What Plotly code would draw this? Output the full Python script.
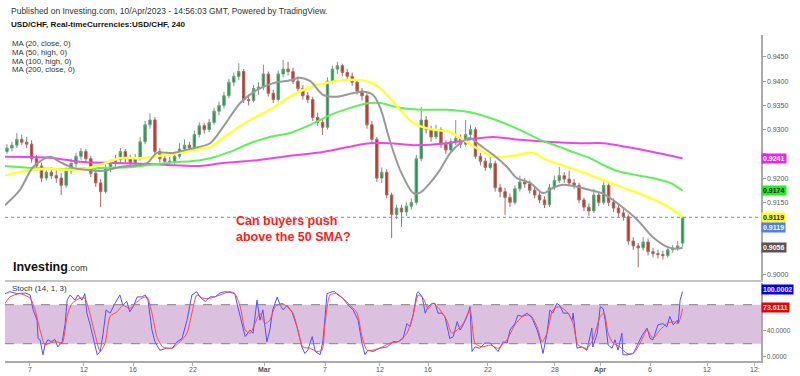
import plotly.graph_objects as go

# ---------------- data ----------------
idx = list(range(138))
O = [0.9255, 0.9262, 0.9268, 0.9280, 0.9274, 0.9270, 0.9240, 0.9225, 0.9200, 0.9212,
     0.9205, 0.9200, 0.9185, 0.9215, 0.9230, 0.9245, 0.9255, 0.9240, 0.9210, 0.9190,
     0.9172, 0.9220, 0.9230, 0.9238, 0.9255, 0.9240, 0.9232, 0.9240, 0.9275, 0.9310,
     0.9320, 0.9255, 0.9240, 0.9235, 0.9232, 0.9245, 0.9260, 0.9268, 0.9262, 0.9290,
     0.9308, 0.9300, 0.9315, 0.9338, 0.9350, 0.9370, 0.9398, 0.9410, 0.9420, 0.9362,
     0.9360, 0.9385, 0.9388, 0.9415, 0.9375, 0.9362, 0.9415, 0.9425, 0.9420, 0.9400,
     0.9385, 0.9370, 0.9362, 0.9325, 0.9315, 0.9305, 0.9400, 0.9425, 0.9432, 0.9418,
     0.9410, 0.9398, 0.9380, 0.9370, 0.9310, 0.9280, 0.9200, 0.9212, 0.9165, 0.9125,
     0.9138, 0.9130, 0.9142, 0.9150, 0.9240, 0.9320, 0.9300, 0.9285, 0.9300, 0.9270,
     0.9258, 0.9275, 0.9282, 0.9270, 0.9290, 0.9300, 0.9245, 0.9235, 0.9222, 0.9230,
     0.9180, 0.9172, 0.9160, 0.9150, 0.9178, 0.9192, 0.9188, 0.9175, 0.9165, 0.9155,
     0.9145, 0.9180, 0.9195, 0.9205, 0.9198, 0.9190, 0.9185, 0.9155, 0.9140, 0.9132,
     0.9165, 0.9150, 0.9185, 0.9150, 0.9138, 0.9128, 0.9120, 0.9070, 0.9060, 0.9056,
     0.9068, 0.9048, 0.9044, 0.9042, 0.9040, 0.9052, 0.9055, 0.9066]
H = [0.9270, 0.9275, 0.9293, 0.9290, 0.9285, 0.9278, 0.9248, 0.9232, 0.9220, 0.9222,
     0.9218, 0.9210, 0.9222, 0.9240, 0.9252, 0.9262, 0.9260, 0.9246, 0.9218, 0.9198,
     0.9228, 0.9238, 0.9248, 0.9262, 0.9260, 0.9248, 0.9250, 0.9285, 0.9318, 0.9334,
     0.9326, 0.9262, 0.9248, 0.9244, 0.9252, 0.9272, 0.9280, 0.9275, 0.9298, 0.9315,
     0.9314, 0.9322, 0.9345, 0.9358, 0.9378, 0.9405, 0.9418, 0.9437, 0.9425, 0.9372,
     0.9392, 0.9398, 0.9434, 0.9420, 0.9382, 0.9422, 0.9444, 0.9440, 0.9428, 0.9410,
     0.9392, 0.9378, 0.9368, 0.9335, 0.9322, 0.9408, 0.9432, 0.9440, 0.9436, 0.9425,
     0.9418, 0.9404, 0.9386, 0.9375, 0.9318, 0.9285, 0.9222, 0.9218, 0.9170, 0.9145,
     0.9145, 0.9150, 0.9158, 0.9248, 0.9347, 0.9328, 0.9308, 0.9310, 0.9305, 0.9278,
     0.9282, 0.9320, 0.9290, 0.9320, 0.9310, 0.9305, 0.9252, 0.9242, 0.9245, 0.9236,
     0.9188, 0.9180, 0.9168, 0.9185, 0.9205, 0.9200, 0.9195, 0.9182, 0.9172, 0.9162,
     0.9188, 0.9205, 0.9223, 0.9212, 0.9215, 0.9198, 0.9190, 0.9160, 0.9148, 0.9178,
     0.9172, 0.9196, 0.9190, 0.9158, 0.9146, 0.9140, 0.9125, 0.9078, 0.9066, 0.9078,
     0.9075, 0.9056, 0.9052, 0.9050, 0.9058, 0.9062, 0.9070, 0.9122]
L = [0.9250, 0.9255, 0.9262, 0.9268, 0.9262, 0.9232, 0.9215, 0.9192, 0.9195, 0.9198,
     0.9190, 0.9165, 0.9180, 0.9208, 0.9222, 0.9238, 0.9232, 0.9202, 0.9182, 0.9140,
     0.9168, 0.9212, 0.9222, 0.9232, 0.9232, 0.9225, 0.9228, 0.9236, 0.9270, 0.9302,
     0.9248, 0.9232, 0.9228, 0.9226, 0.9228, 0.9240, 0.9252, 0.9255, 0.9258, 0.9284,
     0.9292, 0.9295, 0.9310, 0.9330, 0.9344, 0.9365, 0.9390, 0.9402, 0.9355, 0.9350,
     0.9356, 0.9372, 0.9382, 0.9368, 0.9355, 0.9358, 0.9408, 0.9412, 0.9394, 0.9378,
     0.9362, 0.9355, 0.9318, 0.9308, 0.9289, 0.9300, 0.9395, 0.9415, 0.9410, 0.9400,
     0.9390, 0.9372, 0.9360, 0.9302, 0.9270, 0.9192, 0.9190, 0.9158, 0.9076, 0.9115,
     0.9099, 0.9122, 0.9135, 0.9145, 0.9235, 0.9292, 0.9275, 0.9280, 0.9262, 0.9250,
     0.9252, 0.9268, 0.9262, 0.9265, 0.9282, 0.9240, 0.9226, 0.9215, 0.9218, 0.9172,
     0.9160, 0.9124, 0.9140, 0.9145, 0.9172, 0.9180, 0.9168, 0.9158, 0.9148, 0.9138,
     0.9140, 0.9175, 0.9190, 0.9190, 0.9184, 0.9178, 0.9148, 0.9132, 0.9122, 0.9128,
     0.9142, 0.9145, 0.9142, 0.9130, 0.9120, 0.9112, 0.9062, 0.9052, 0.9016, 0.9050,
     0.9040, 0.9036, 0.9034, 0.9032, 0.9036, 0.9046, 0.9050, 0.9058]
C = [0.9262, 0.9268, 0.9280, 0.9274, 0.9270, 0.9240, 0.9225, 0.9200, 0.9212, 0.9205,
     0.9200, 0.9185, 0.9215, 0.9230, 0.9245, 0.9255, 0.9240, 0.9210, 0.9190, 0.9172,
     0.9220, 0.9230, 0.9238, 0.9255, 0.9240, 0.9232, 0.9240, 0.9275, 0.9310, 0.9320,
     0.9255, 0.9240, 0.9235, 0.9232, 0.9245, 0.9260, 0.9268, 0.9262, 0.9290, 0.9308,
     0.9300, 0.9315, 0.9338, 0.9350, 0.9370, 0.9398, 0.9410, 0.9420, 0.9362, 0.9360,
     0.9385, 0.9388, 0.9415, 0.9375, 0.9362, 0.9415, 0.9425, 0.9420, 0.9400, 0.9385,
     0.9370, 0.9362, 0.9325, 0.9315, 0.9305, 0.9400, 0.9425, 0.9432, 0.9418, 0.9410,
     0.9398, 0.9380, 0.9370, 0.9310, 0.9280, 0.9200, 0.9212, 0.9165, 0.9125, 0.9138,
     0.9130, 0.9142, 0.9150, 0.9240, 0.9320, 0.9300, 0.9285, 0.9300, 0.9270, 0.9258,
     0.9275, 0.9282, 0.9270, 0.9290, 0.9300, 0.9245, 0.9235, 0.9222, 0.9230, 0.9180,
     0.9172, 0.9160, 0.9150, 0.9178, 0.9192, 0.9188, 0.9175, 0.9165, 0.9155, 0.9145,
     0.9180, 0.9195, 0.9205, 0.9198, 0.9190, 0.9185, 0.9155, 0.9140, 0.9132, 0.9165,
     0.9150, 0.9185, 0.9150, 0.9138, 0.9128, 0.9120, 0.9070, 0.9060, 0.9056, 0.9068,
     0.9048, 0.9044, 0.9042, 0.9040, 0.9052, 0.9055, 0.9060, 0.9119]

ma20_x = [-0.4, 2.6, 5.3, 8.7, 10.8, 13.4, 16.2, 19.5, 22.9, 28.4, 30.4, 33.7, 37.1, 41.2, 43.8, 47.3,
          50.7, 54.0, 57.4, 59.4, 61.5, 64.1, 66.9, 69.6, 72.2, 74.2, 75.7, 77.7, 79.7, 82.4, 83.8,
          85.8, 87.8, 89.9, 91.9, 93.9, 95.9, 98.6, 101.4, 103.4, 106.1, 108.7, 110.8, 112.8, 115.6,
          118.3, 120.9, 124.3, 127.8, 131.0, 133.9, 135.9, 137.0]
ma20_y = [0.9144, 0.9175, 0.9223, 0.9244, 0.9233, 0.9221, 0.9217, 0.9215, 0.9223, 0.9231, 0.9252,
          0.9252, 0.9260, 0.9272, 0.9305, 0.9355, 0.9382, 0.9396, 0.9402, 0.9407, 0.9400, 0.9372,
          0.9368, 0.9374, 0.9378, 0.9372, 0.9345, 0.9275, 0.9217, 0.9169, 0.9170, 0.9190, 0.9217,
          0.9252, 0.9272, 0.9283, 0.9268, 0.9248, 0.9223, 0.9200, 0.9190, 0.9169, 0.9180, 0.9186,
          0.9182, 0.9175, 0.9168, 0.9144, 0.9114, 0.9078, 0.9058, 0.9054, 0.9056]
ma50_x = [-0.4, 5.3, 8.7, 14.8, 18.9, 22.9, 27.0, 31.0, 35.1, 39.1, 41.2, 45.2, 49.3, 53.3, 57.4,
          61.5, 65.5, 69.6, 73.6, 75.7, 77.7, 79.7, 82.4, 85.8, 89.9, 92.5, 95.9, 98.6, 102.6,
          106.7, 109.5, 113.6, 118.3, 122.3, 126.4, 130.4, 134.5, 137.0]
ma50_y = [0.9206, 0.9217, 0.9219, 0.9217, 0.9227, 0.9241, 0.9241, 0.9246, 0.9252, 0.9260, 0.9264,
          0.9293, 0.9320, 0.9341, 0.9368, 0.9388, 0.9398, 0.9403, 0.9398, 0.9385, 0.9365, 0.9341,
          0.9314, 0.9301, 0.9295, 0.9279, 0.9258, 0.9244, 0.9246, 0.9252, 0.9237, 0.9223, 0.9206,
          0.9190, 0.9175, 0.9159, 0.9138, 0.9119]
ma100_x = [-0.4, 5.3, 12.2, 18.9, 25.6, 32.5, 39.1, 41.2, 45.2, 49.3, 53.3, 57.4, 61.5, 65.5, 69.6,
           73.6, 75.7, 79.7, 83.8, 89.2, 93.9, 98.6, 104.1, 108.1, 112.2, 114.2, 118.3, 120.9,
           124.3, 127.8, 131.0, 134.5, 137.0]
ma100_y = [0.9225, 0.9221, 0.9219, 0.9221, 0.9223, 0.9231, 0.9237, 0.9241, 0.9254, 0.9272, 0.9285,
           0.9293, 0.9310, 0.9330, 0.9345, 0.9355, 0.9355, 0.9345, 0.9341, 0.9341, 0.9336, 0.9322,
           0.9299, 0.9279, 0.9264, 0.9256, 0.9241, 0.9227, 0.9213, 0.9206, 0.9200, 0.9190, 0.9174]
ma200_x = [-0.4, 8.7, 15.4, 22.3, 29.0, 32.5, 39.1, 43.8, 50.7, 57.4, 64.1, 71.0, 73.6, 77.7,
           82.4, 89.2, 94.5, 98.6, 104.1, 109.5, 116.2, 120.9, 125.8, 131.0, 137.0]
ma200_y = [0.9244, 0.9242, 0.9233, 0.9231, 0.9229, 0.9227, 0.9225, 0.9231, 0.9237, 0.9246, 0.9254,
           0.9268, 0.9272, 0.9272, 0.9268, 0.9272, 0.9281, 0.9285, 0.9279, 0.9275, 0.9272, 0.9272,
           0.9264, 0.9254, 0.9241]

k_x = [-0.4, 0.6, 2.0, 3.7, 4.7, 5.3, 6.1, 6.3, 6.7, 7.3, 7.7, 8.3, 9.1, 9.7, 10.3, 11.2, 11.8, 12.2,
       12.8, 13.8, 14.4, 15.2, 15.8, 16.2, 16.8, 17.4, 18.3, 18.9, 19.5, 20.1, 20.9, 21.9, 22.9, 23.5,
       24.3, 24.9, 25.6, 26.4, 27.4, 28.0, 28.6, 29.4, 30.0, 31.0, 32.4, 33.5, 34.5, 35.5, 36.5, 37.5,
       38.5, 39.1, 40.2, 41.2, 42.2, 43.2, 44.2, 45.2, 46.2, 46.8, 47.7, 48.3, 49.3, 49.9, 50.7, 51.3,
       51.9, 52.7, 53.3, 53.9, 54.8, 55.4, 56.0, 56.8, 57.8, 58.8, 59.8, 60.4, 61.0, 61.9, 62.5, 63.5,
       64.1, 64.9, 65.9, 66.5, 67.1, 68.1, 69.2, 70.2, 71.2, 72.0, 72.6, 73.2, 74.2, 75.6, 77.1, 78.3,
       79.3, 80.3, 81.1, 81.7, 82.3, 83.1, 83.4, 84.2, 84.8, 85.4, 86.2, 86.8, 87.4, 88.2, 88.8, 89.8,
       90.5, 91.3, 91.9, 92.5, 93.3, 93.9, 94.3, 94.9, 95.9, 96.9, 98.0, 99.0, 99.6, 100.6, 101.4,
       102.0, 103.0, 103.6, 104.4, 105.5, 106.5, 107.5, 108.1, 108.7, 109.5, 110.1, 110.7, 111.5,
       112.1, 112.8, 113.8, 114.6, 114.8, 115.6, 116.6, 117.6, 118.6, 118.8, 119.7, 120.3, 120.9,
       121.3, 121.9, 122.7, 123.3, 123.9, 124.7, 124.9, 125.9, 127.0, 128.0, 128.8, 129.8, 130.4,
       131.0, 132.0, 133.0, 133.8, 134.4, 135.1, 135.9, 136.1, 136.5, 137.0]
k_val = [97, 100, 97, 98, 95, 72, 56, 28, 26, 3, 18, 26, 23, 27, 15, 23, 51, 87,
         95, 87, 95, 87, 97, 67, 51, 31, 3, 8, 36, 72, 67, 82, 95, 79,
         85, 69, 77, 92, 92, 95, 87, 41, 23, 10, 13, 13, 23, 28, 56, 95,
         100, 92, 85, 92, 92, 98, 100, 99, 97, 77, 51, 31, 41, 36, 87, 56,
         72, 23, 41, 72, 92, 79, 72, 79, 69, 46, 15, 5, 10, 31, 8, 3,
         26, 97, 100, 100, 95, 90, 79, 72, 56, 21, 3, 10, 8, 13, 15, 23,
         23, 28, 51, 46, 62, 97, 100, 92, 67, 77, 82, 82, 67, 67, 62, 28,
         31, 54, 41, 49, 62, 77, 8, 15, 13, 21, 21, 13, 8, 23, 21,
         41, 51, 64, 62, 67, 59, 41, 26, 5, 36, 72, 67, 82,
         79, 67, 67, 56, 67, 13, 15, 10, 44, 15, 36, 77, 74,
         56, 18, 13, 26, 10, 36, 3, 3, 5, 21, 33, 44, 28,
         26, 49, 51, 46, 62, 49, 56, 51, 87, 100]
d_x = [-0.4, 0.6, 2.6, 4.7, 5.7, 6.7, 7.7, 8.7, 10.1, 11.2, 12.2, 13.2, 14.8, 15.8, 16.8, 17.8, 18.9,
       19.9, 20.9, 22.3, 23.5, 24.9, 26.0, 27.4, 28.4, 29.4, 30.4, 31.6, 33.5, 35.1, 36.5, 37.5, 38.5,
       39.7, 41.2, 43.2, 45.2, 46.2, 47.3, 48.3, 49.3, 50.3, 51.3, 52.3, 53.3, 54.4, 55.8, 56.8, 58.0,
       59.0, 60.0, 61.4, 62.9, 63.9, 64.5, 65.5, 66.9, 68.1, 69.6, 71.0, 72.0, 73.0, 74.2, 76.1, 77.7,
       79.3, 81.1, 82.3, 83.4, 84.4, 85.4, 86.4, 87.8, 89.2, 90.2, 91.3, 92.5, 93.9, 94.9, 96.3, 98.0,
       99.6, 101.4, 103.0, 104.6, 106.1, 107.5, 108.5, 109.5, 110.7, 112.1, 113.8, 114.8, 115.8,
       117.6, 118.8, 120.3, 121.1, 121.9, 122.9, 124.3, 125.7, 127.0, 128.4, 129.8, 131.0, 132.4,
       133.8, 135.1, 136.1, 137.0]
d_val = [82, 92, 97, 90, 72, 41, 18, 21, 23, 21, 62, 82, 90, 90, 67, 36, 8,
         21, 62, 69, 79, 74, 82, 90, 92, 67, 31, 15, 13, 23, 36, 67, 95,
         90, 90, 95, 100, 97, 77, 41, 36, 51, 67, 51, 56, 77, 82, 77, 67,
         41, 15, 13, 8, 10, 51, 95, 97, 90, 79, 67, 31, 10, 10, 15, 21,
         23, 36, 62, 95, 90, 74, 82, 72, 56, 36, 41, 51, 72, 21, 15, 18,
         13, 26, 49, 62, 64, 46, 23, 36, 72, 77, 67, 51, 18,
         13, 26, 62, 67, 36, 21, 15, 5, 5, 21, 41, 28, 41,
         51, 54, 51, 73.6111]

price_ticks = [0.9000, 0.9050, 0.9100, 0.9150, 0.9200, 0.9250, 0.9300, 0.9350, 0.9400, 0.9450]
price_tick_text = ["0.9000", "", "", "0.9150", "0.9200", "", "0.9300", "0.9350", "0.9400", "0.9450"]
date_pos = [4.66, 15.6, 25.6, 37.7, 52.3, 64.5, 75.6, 85.4, 97.5, 111.1, 120.3, 130.4, 142.0, 151.6]
date_lbl = ["7", "12", "16", "22", "<b>Mar</b>", "7", "12", "16", "22", "28", "<b>Apr</b>", "6", "12", "12:"]
stoch_ticks = [0, 40, 80]
stoch_tick_text = ["0.0000", "40.0000", ""]

FONT = "Liberation Sans, Arial, sans-serif"

fig = go.Figure()
fig.add_trace(go.Candlestick(
    x=idx, open=O, high=H, low=L, close=C, xaxis="x", yaxis="y",
    increasing=dict(fillcolor="#1f9a4c", line=dict(color="#6e9e7e", width=1)),
    decreasing=dict(fillcolor="#c0352c", line=dict(color="#a86a62", width=1)),
    whiskerwidth=0, showlegend=False, hoverinfo="skip"))

for xs, ys, col, w in [(ma200_x, ma200_y, "#ee44ee", 2), (ma100_x, ma100_y, "#5ff05a", 2),
                       (ma50_x, ma50_y, "#ffff3a", 2.5), (ma20_x, ma20_y, "#999999", 2)]:
    fig.add_trace(go.Scatter(x=xs, y=ys, mode="lines", line=dict(color=col, width=w, shape="spline", smoothing=0.8),
                             xaxis="x", yaxis="y", showlegend=False, hoverinfo="skip"))

fig.add_trace(go.Scatter(x=k_x, y=k_val, mode="lines", line=dict(color="#5050ff", width=1),
                         xaxis="x2", yaxis="y2", showlegend=False, hoverinfo="skip"))
fig.add_trace(go.Scatter(x=d_x, y=d_val, mode="lines", line=dict(color="#ff4a4a", width=1, shape="spline", smoothing=0.6),
                         xaxis="x2", yaxis="y2", showlegend=False, hoverinfo="skip"))

axis_common = dict(showgrid=False, zeroline=False, automargin=False)
fig.update_layout(
    template="none",
    width=800, height=376, margin=dict(l=5, r=39, t=35, b=15, pad=0, autoexpand=False),
    paper_bgcolor="white", plot_bgcolor="white", showlegend=False,
    font=dict(family=FONT, color="#444"),
    xaxis=dict(domain=[0, 1], anchor="y", range=[-0.4, 152.9], showticklabels=False, ticks="",
               showline=True, linecolor="#c4c4c4", linewidth=2, rangeslider=dict(visible=False), **axis_common),
    yaxis=dict(domain=[0.2485, 1], anchor="x", range=[0.89896, 0.94954], side="right", tickvals=price_ticks,
               ticktext=price_tick_text, ticks="outside", ticklen=3, tickcolor="#999",
               showline=True, linecolor="#aaaaaa", linewidth=1.5, tickfont=dict(size=7, color="#555"), **axis_common),
    xaxis2=dict(domain=[0, 1], anchor="y2", matches="x", range=[-0.4, 152.9], tickvals=date_pos,
                showticklabels=False, ticks="outside", ticklen=3, tickcolor="#aaa", showline=True,
                linecolor="#aaaaaa", linewidth=1.5, **axis_common),
    yaxis2=dict(domain=[0, 0.2393], anchor="x2", range=[-6.6, 113.4], side="right", tickvals=stoch_ticks,
                ticktext=stoch_tick_text, ticks="outside", ticklen=3, tickcolor="#999",
                showline=True, linecolor="#aaaaaa", linewidth=1.5, tickfont=dict(size=6.5, color="#555"), **axis_common),
)

# stoch band and level lines
fig.add_shape(type="rect", xref="x2 domain", yref="y2", x0=0, x1=1, y0=20, y1=80,
              fillcolor="#dcc0df", line=dict(width=0), layer="below")
for lv in [20, 80]:
    fig.add_shape(type="line", xref="x2 domain", yref="y2", x0=0, x1=1, y0=lv, y1=lv,
                  line=dict(color="#8a7a8c", width=1, dash="dash"))
# last price dotted line
fig.add_shape(type="line", xref="x domain", yref="y", x0=0, x1=1, y0=C[-1], y1=C[-1],
              line=dict(color="#6b86e8", width=1, dash="dot"))

# date labels under the stoch pane
for p, t in zip(date_pos, date_lbl):
    fig.add_annotation(text=t, xref="x2", yref="paper", x=p, y=-0.0261, xanchor="center", yanchor="middle",
                       showarrow=False, borderpad=0, font=dict(size=7, color="#555", family=FONT))

# header texts
def ann(text, x, y, size, color="#222", **kw):
    fig.add_annotation(text=text, xref="paper", yref="paper", x=x, y=y, xanchor="left", yanchor="middle",
                       showarrow=False, borderpad=0, font=dict(size=size, color=color, family=FONT), **kw)

ann("Published on Investing.com, 10/Apr/2023 - 14:56:03 GMT, Powered by TradingView.", 0.0066, 1.0736, 8.5, "#333")
ann("<b>USD/CHF, Real-timeCurrencies:USD/CHF, 240</b>", 0.0066, 1.0307, 8.1, "#111")
for k, t in enumerate(["MA (20, close, 0)", "MA (50, high, 0)", "MA (100, high, 0)", "MA (200, close, 0)"]):
    ann(t, 0.0079, 0.9724 - k * 0.0261, 7.8, "#333")
ann("Stoch (14, 1, 3)", 0.0079, 0.2239, 8, "#333")
ann("<b>Investing</b><span style='font-size:9px;color:#333'>.com</span>", 0.0092, 0.2883, 12.5, "#111")

fig.add_annotation(text="<b>Can buyers push<br>above the 50 SMA?</b>", xref="x", yref="y", x=46.0, y=0.9129,
                   xanchor="left", yanchor="top", align="left", showarrow=False,
                   font=dict(size=12.5, color="#ff1c1c", family=FONT))

# price labels on the right axis
def tag(text, yref, y, bg, fg, yshift=0):
    fig.add_annotation(text="<b>%s</b>" % text, xref="paper", yref=yref, x=1.0, y=y, xanchor="left",
                       yanchor="middle", showarrow=False, bgcolor=bg, borderpad=1, yshift=yshift,
                       font=dict(size=7, color=fg, family=FONT))

tag("0.9241", "y", 0.9241, "#ee22ee", "white")
tag("0.9174", "y", 0.9174, "#22ee22", "#111")
tag("0.9119", "y", 0.9119, "#ffff22", "#111")
tag("0.9119", "y", 0.9119, "#4f7fe6", "white", yshift=-10.5)
tag("0.9056", "y", 0.9056, "#555555", "white")
tag("100.0002", "y2", 100.0, "#0000ee", "white", yshift=2)
tag("73.6111", "y2", 73.6111, "#ee0000", "white", yshift=1)

fig.write_html("out.html", config={"displayModeBar": False, "staticPlot": True},
               post_script="document.body.style.margin='0';")
